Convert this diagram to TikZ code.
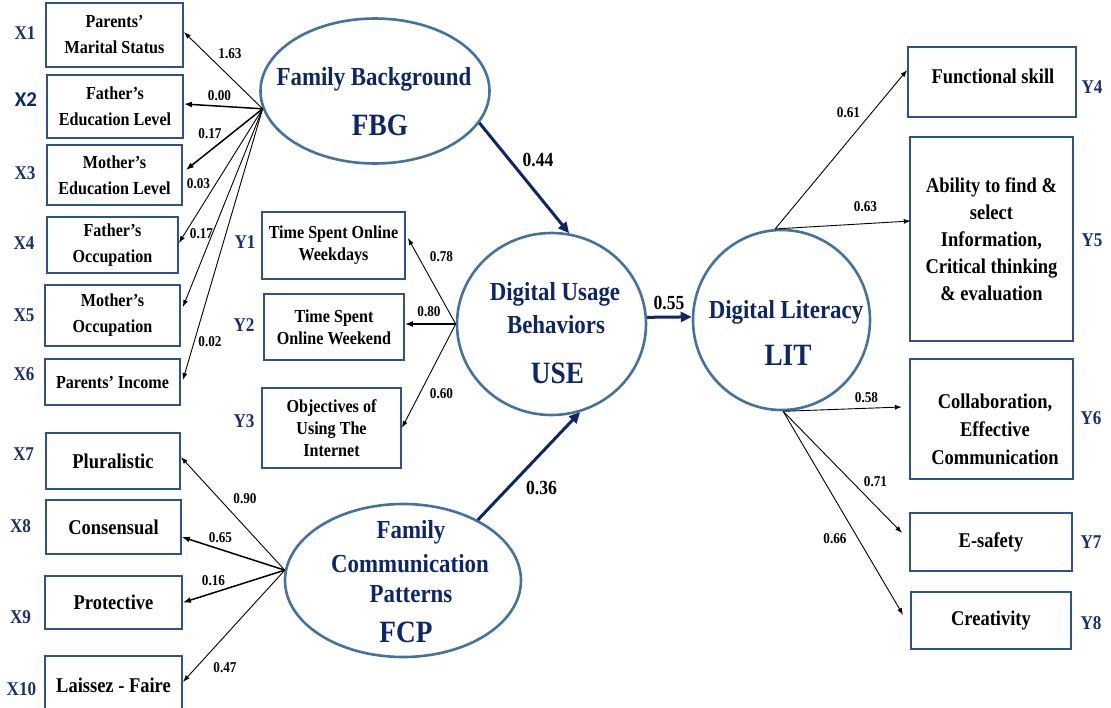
\documentclass[tikz,border=0pt]{standalone}
\usepackage{fontspec}
\setmainfont{Liberation Serif}[FakeStretch=0.88]
\newfontfamily\tagsans{Carlito}
\usetikzlibrary{shapes.geometric,arrows.meta,calc}

\definecolor{navy}{RGB}{12,38,104}
\definecolor{ringblue}{RGB}{68,114,160}
\definecolor{boxblue}{RGB}{47,82,143}
\definecolor{tagblue}{RGB}{24,48,112}

\begin{document}
\begin{tikzpicture}[x=1pt,y=-1pt,
  indl/.style={draw=boxblue, line width=1.8pt, fill=white, align=center, inner sep=0pt,
               font=\bfseries\fontsize{18.3}{26}\selectfont},
  indc/.style={indl, font=\bfseries\fontsize{21}{26}\selectfont},
  indm/.style={indl, font=\bfseries\fontsize{18.3}{22}\selectfont},
  indr/.style={indl, font=\bfseries\fontsize{21}{27}\selectfont},
  boxtext/.style={align=center, inner sep=0pt, font=\bfseries\fontsize{21}{28}\selectfont},
  latent/.style={draw=ringblue, line width=2.6pt, ellipse, inner sep=0pt},
  lname/.style={text=navy, anchor=base, inner sep=0pt, font=\bfseries\fontsize{26}{30}\selectfont},
  labbr/.style={text=navy, anchor=base, inner sep=0pt, font=\bfseries\fontsize{31}{34}\selectfont},
  tag/.style={text=tagblue, inner sep=0pt, font=\bfseries\fontsize{19.5}{20}\selectfont},
  coef/.style={inner sep=0pt, font=\bfseries\fontsize{15}{16}\selectfont},
  bigcoef/.style={inner sep=0pt, font=\bfseries\fontsize{20}{22}\selectfont},
  load/.style={-{Latex[length=7pt,width=5pt]}, line width=0.9pt},
  loadthick/.style={-{Latex[length=8pt,width=6pt]}, line width=1.5pt},
  effect/.style={-{Triangle[length=11pt,width=10pt]}, line width=3pt, draw=navy}]

\useasboundingbox (0,0) rectangle (1111,707);
\fill[white] (0,0) rectangle (1111,707);
\clip (0,0) rectangle (1111,707);

% ---- latent constructs ----
\node[latent, minimum width=229pt, minimum height=145pt] (fbg) at (375,91) {};
\node[latent, minimum width=189pt, minimum height=182pt] (use) at (551.5,324) {};
\node[latent, minimum width=177pt, minimum height=180pt] (lit) at (781.5,320) {};
\node[latent, minimum width=236pt, minimum height=153pt] (fcp) at (403,580.5) {};

\node[lname] (fbgn) at (374,85) {Family Background};
\node[labbr] (fbga) at (380,135) {FBG};
\node[lname] (usen1) at (555,300) {Digital Usage};
\node[lname] (usen2) at (556,333) {Behaviors};
\node[labbr] (usea) at (557.5,383) {USE};
\node[lname] (litn) at (786,318) {Digital Literacy};
\node[labbr] (lita) at (788,365) {LIT};
\node[lname] (fcpn1) at (411,538) {Family};
\node[lname] (fcpn2) at (410,572) {Communication};
\node[lname] (fcpn3) at (411,602) {Patterns};
\node[labbr] (fcpa) at (406,642) {FCP};

% ---- family background indicators ----
\node[indl, minimum width=137pt, minimum height=64pt] (x1) at (114.5,35) {Parents’\\Marital Status};
\node[indl, minimum width=136pt, minimum height=63pt] (x2) at (115,106.5) {Father’s\\Education Level};
\node[indl, minimum width=135pt, minimum height=60pt] (x3) at (114.5,175) {Mother’s\\Education Level};
\node[indl, minimum width=131pt, minimum height=56pt] (x4) at (112.5,245) {Father’s\\Occupation};
\node[indl, minimum width=135pt, minimum height=61pt] (x5) at (112.5,315.5) {Mother’s\\Occupation};
\node[indl, minimum width=135pt, minimum height=46pt] (x6) at (112.5,382) {Parents’ Income};

% ---- communication pattern indicators ----
\node[indc, minimum width=134pt, minimum height=56pt] (x7) at (113,461) {Pluralistic};
\node[indc, minimum width=135pt, minimum height=54pt] (x8) at (113.5,527) {Consensual};
\node[indc, minimum width=137pt, minimum height=53pt] (x9) at (113.5,602.5) {Protective};
\node[indc, minimum width=137pt, minimum height=58pt] (x10) at (113.5,685) {Laissez - Faire};

% ---- usage indicators ----
\node[indm, minimum width=143pt, minimum height=67pt] (y1) at (333.5,245.5) {Time Spent Online\\Weekdays};
\node[indm, minimum width=140pt, minimum height=66pt] (y2) at (334,327) {Time Spent\\Online Weekend};
\node[indm, minimum width=139pt, minimum height=80pt] (y3) at (331.5,428) {Objectives of\\Using The\\Internet};

% ---- literacy indicators ----
\node[indr, minimum width=168pt, minimum height=70pt] (y4) at (992,82) {};
\node[boxtext, anchor=base] (y4t) at (993,83) {Functional skill};
\node[indr, line width=2.4pt, minimum width=163pt, minimum height=204pt] (y5) at (991.5,239)
  {Ability to find \&\\select\\Information,\\Critical thinking\\\& evaluation};
\node[indr, line width=2.4pt, minimum width=163pt, minimum height=120pt] (y6) at (991.5,419) {};
\node[boxtext] (y6t) at (995,429) {Collaboration,\\Effective\\Communication};
\node[indr, minimum width=162pt, minimum height=58pt] (y7) at (991,542) {E-safety};
\node[indr, minimum width=160pt, minimum height=57pt] (y8) at (991,620.5) {Creativity};

% ---- indicator tags ----
\node[tag] (t1) at (25,33) {X1};
\node[tag, text=navy, font=\tagsans\bfseries\fontsize{21}{22}\selectfont] (t2) at (26,100) {X2};
\node[tag] (t3) at (25,173.5) {X3};
\node[tag] (t4) at (24,243.5) {X4};
\node[tag] (t5) at (24,315) {X5};
\node[tag] (t6) at (24,374.5) {X6};
\node[tag] (t7) at (23.5,454) {X7};
\node[tag] (t8) at (20.5,526) {X8};
\node[tag] (t9) at (20.5,617.5) {X9};
\node[tag] (t10) at (21.5,689) {X10};
\node[tag] (u1) at (245,242.5) {Y1};
\node[tag] (u2) at (244,325) {Y2};
\node[tag] (u3) at (244,421.5) {Y3};
\node[tag] (u4) at (1092,87.5) {Y4};
\node[tag] (u5) at (1092,240) {Y5};
\node[tag] (u6) at (1091,418.5) {Y6};
\node[tag] (u7) at (1091,542) {Y7};
\node[tag] (u8) at (1091,623.5) {Y8};

% ---- loadings ----
\coordinate (fbgO) at (fbg.189);
\coordinate (useO) at (use.west);
\coordinate (fcpO) at (fcp.175);
\coordinate (litU) at (lit.94);
\coordinate (litD) at (lit.271);

\draw[load]      (fbgO) -- ([yshift=3pt]x1.east);
\draw[loadthick] (fbgO) -- ([yshift=2.5pt]x2.east);
\draw[loadthick] (fbgO) -- ([yshift=5pt,xshift=3pt]x3.east);
\draw[load]      (fbgO) -- ([yshift=2pt]x4.east);
\draw[load]      (fbgO) -- ([yshift=8.5pt,xshift=2pt]x5.east);
\draw[load]      (fbgO) -- ([yshift=2pt,xshift=2pt]x6.east);

\draw[load]      (useO) -- ([yshift=7.5pt,xshift=2pt]y1.east);
\draw[loadthick] (useO) -- ([yshift=3pt]y2.east);
\draw[load]      (useO) -- (y3.east);

\draw[load]      (fcpO) -- ([yshift=4pt]x7.east);
\draw[loadthick] (fcpO) -- ([yshift=-10pt]x8.east);
\draw[loadthick] (fcpO) -- (x9.east);
\draw[load]      (fcpO) -- ([yshift=3pt]x10.east);

\draw[load] (litU) -- ([yshift=12pt]y4.west);
\draw[load] (litU) -- ([yshift=18pt,xshift=2pt]y5.west);
\draw[load] (litD) -- ([yshift=12pt,xshift=-7pt]y6.west);
\draw[load] (litD) -- ([yshift=9pt,xshift=-7pt]y7.west);
\draw[load] (litD) -- ([yshift=5.5pt,xshift=-7pt]y8.west);

% ---- structural paths ----
\draw[effect] (fbg.-17) -- (use.79);
\draw[effect] (fcp.39) -- (use.-72);
\draw[effect] (use.4) -- (lit.178);

% ---- coefficients ----
\node[coef] (c1) at (230,54) {1.63};
\node[coef] (c2) at (219.5,96) {0.00};
\node[coef] (c3) at (210,134) {0.17};
\node[coef] (c4) at (198.5,184) {0.03};
\node[coef] (c5) at (201.5,234) {0.17};
\node[coef] (c6) at (210,341.5) {0.02};
\node[coef] (c7) at (441.5,256.5) {0.78};
\node[coef] (c8) at (429,312) {0.80};
\node[coef] (c9) at (441.5,394) {0.60};
\node[coef] (c10) at (245,499) {0.90};
\node[coef] (c11) at (220.5,537.5) {0.65};
\node[coef] (c12) at (213.5,581) {0.16};
\node[coef] (c13) at (225,667.5) {0.47};
\node[coef] (c14) at (848.5,112.5) {0.61};
\node[coef] (c15) at (865.5,207) {0.63};
\node[coef] (c16) at (866.5,398) {0.58};
\node[coef] (c17) at (875.5,482) {0.71};
\node[coef] (c18) at (835,539) {0.66};
\node[bigcoef] (b1) at (538,159.5) {0.44};
\node[bigcoef] (b2) at (669,303) {0.55};
\node[bigcoef] (b3) at (541.5,488) {0.36};
\end{tikzpicture}
\end{document}
